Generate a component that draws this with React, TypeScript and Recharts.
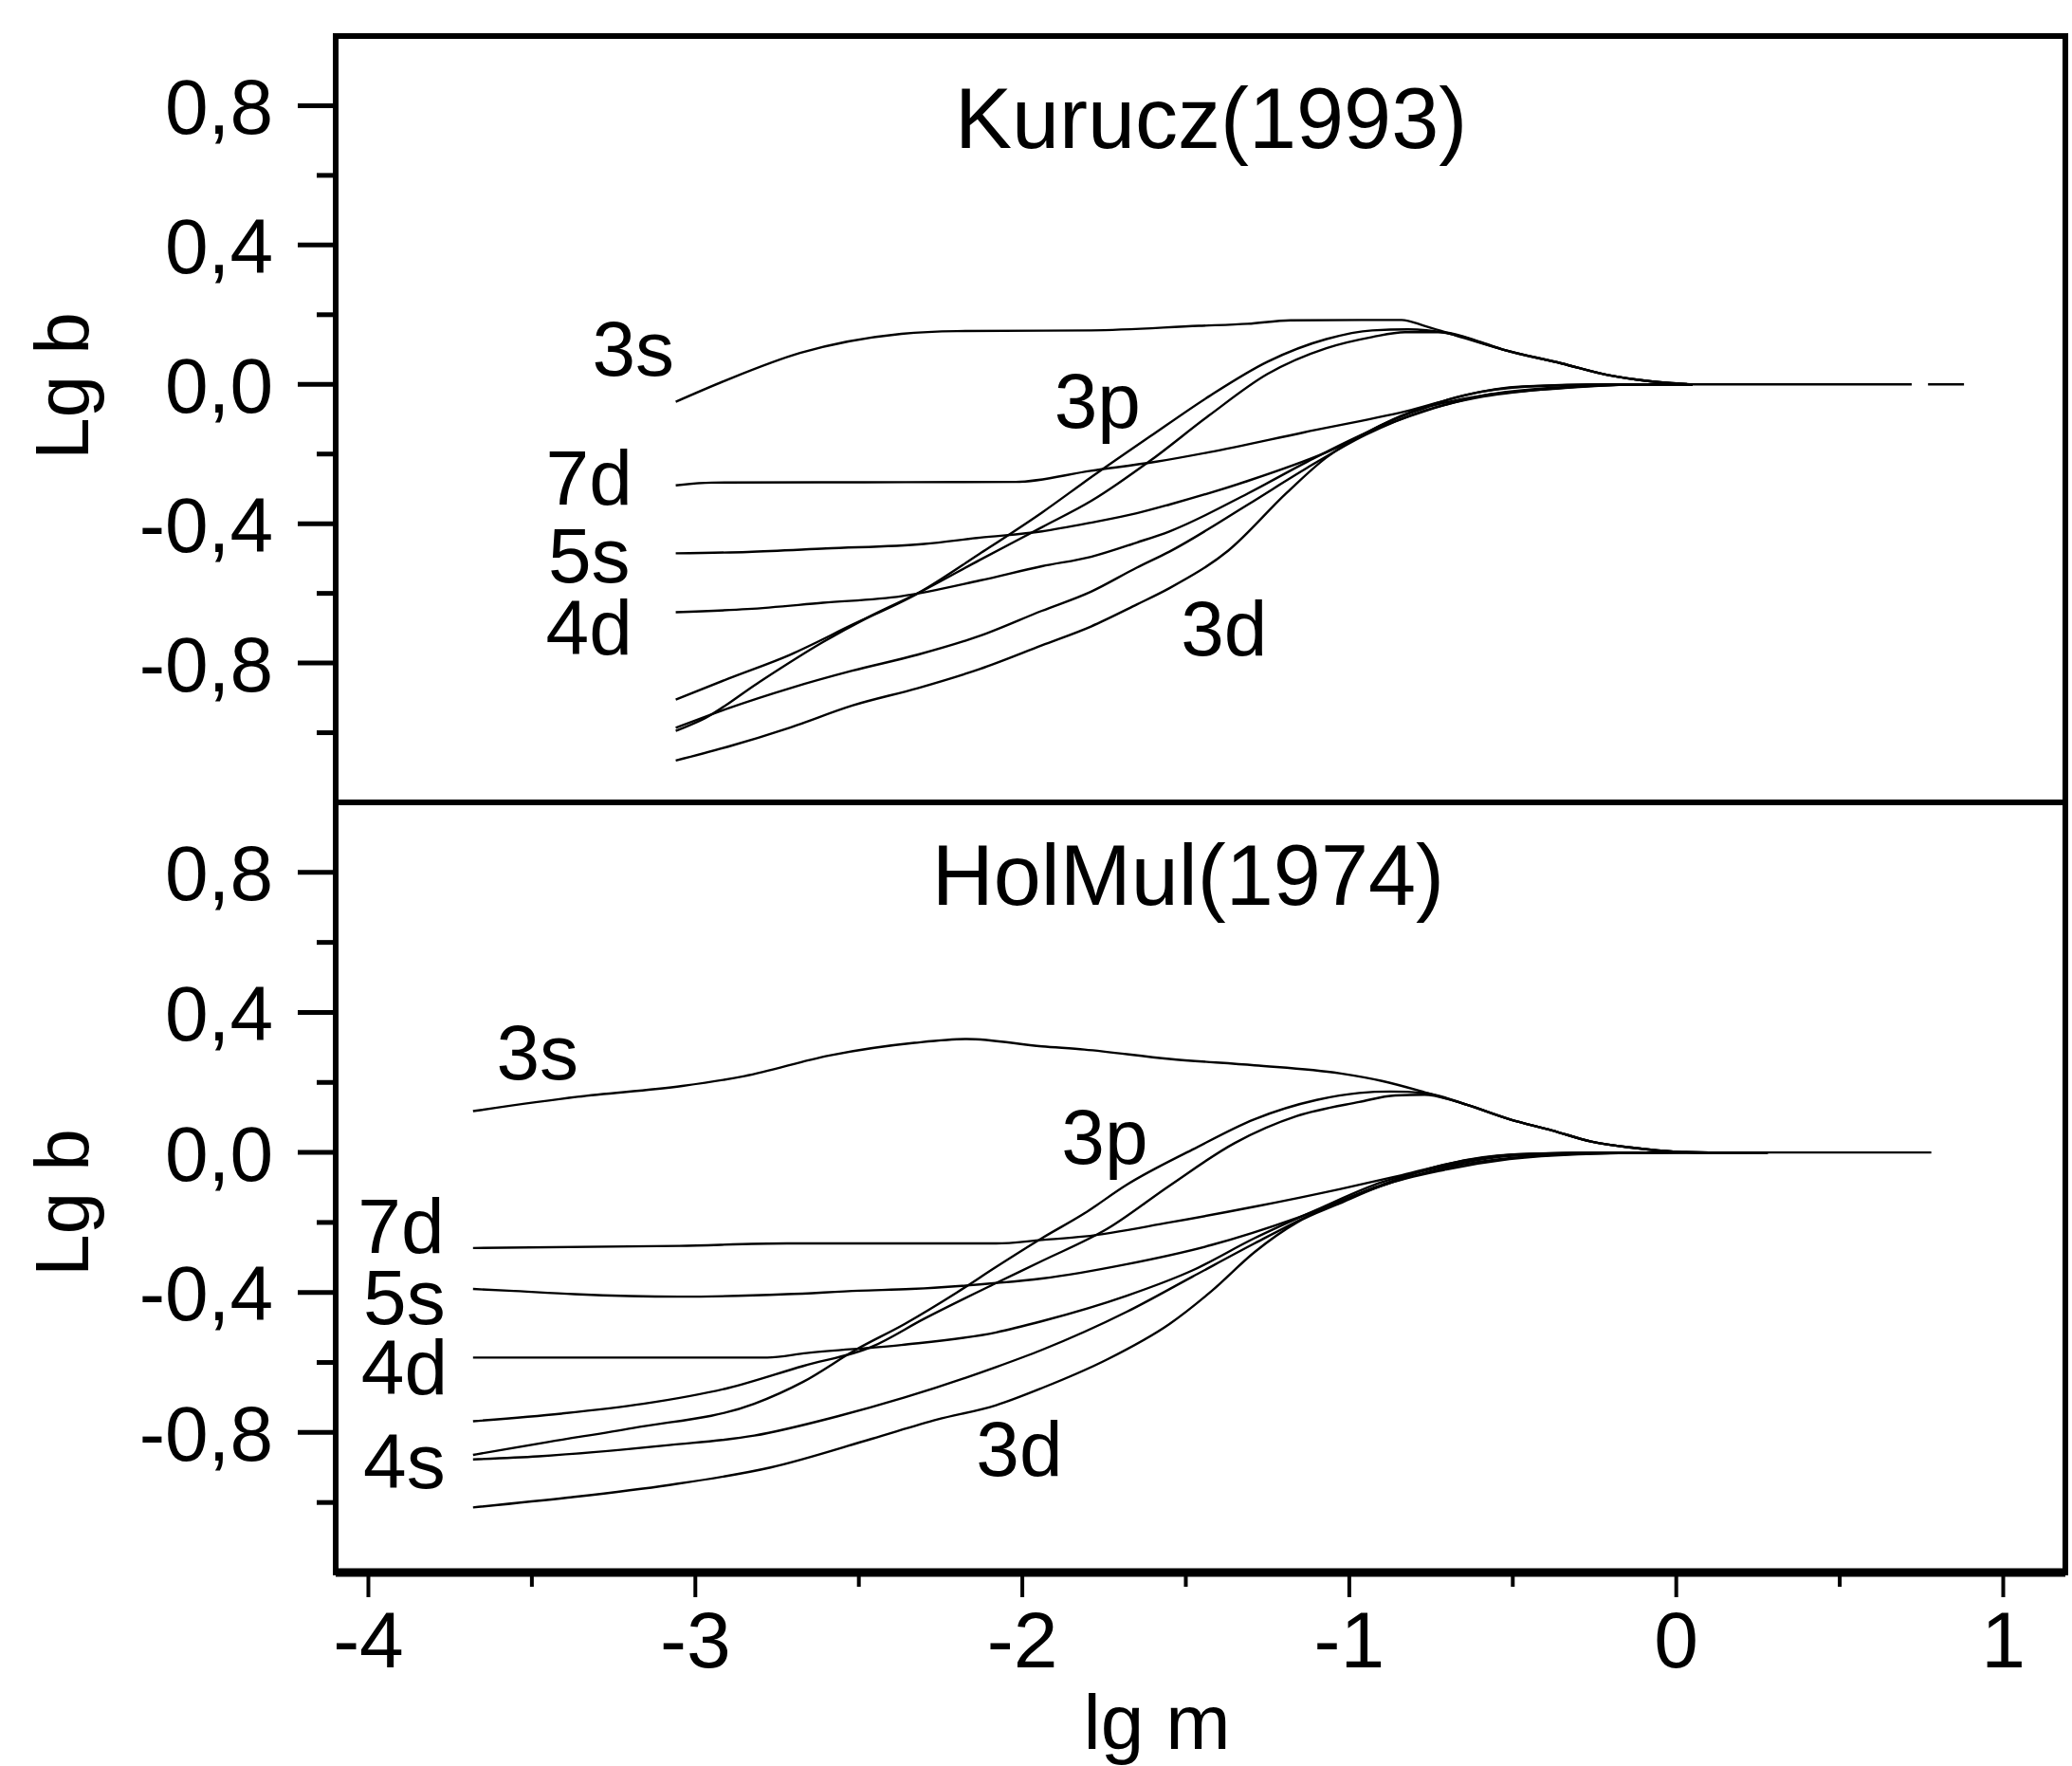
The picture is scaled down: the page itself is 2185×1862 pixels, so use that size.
import {
  LineChart,
  Line,
  XAxis,
  YAxis,
  ReferenceArea,
  ReferenceDot,
  Label,
} from 'recharts'

type Pt = [number, number | null]

// Kurucz (1993), [lg m, Lg b]
const kurucz3s: Pt[] = [[-3.06,-0.05],[-2.9,0.014],[-2.68,0.09],[-2.37,0.145],[-2.2,0.153],[-1.79,0.155],[-1.46,0.168],[-1.31,0.174],[-1.18,0.184],[-0.84,0.185],[-0.77,0.168],[-0.69,0.145],[-0.53,0.1],[-0.35,0.06],[-0.21,0.027],[-0.08,0.009],[0.05,0],[0.72,0],[0.745,null],[0.77,0],[0.88,0]]
const kurucz3p: Pt[] = [[-3.06,-0.905],[-2.9,-0.845],[-2.71,-0.776],[-2.52,-0.69],[-2.32,-0.6],[-2.13,-0.486],[-1.94,-0.368],[-1.79,-0.267],[-1.61,-0.15],[-1.43,-0.035],[-1.25,0.065],[-1.07,0.13],[-0.93,0.155],[-0.82,0.158],[-0.69,0.145],[-0.53,0.1],[-0.35,0.06],[-0.21,0.027],[-0.08,0.009],[0.05,0]]
const kurucz4p: Pt[] = [[-3.06,-0.995],[-2.97,-0.958],[-2.81,-0.858],[-2.61,-0.74],[-2.47,-0.668],[-2.32,-0.6],[-2.13,-0.504],[-1.94,-0.41],[-1.79,-0.335],[-1.61,-0.22],[-1.43,-0.09],[-1.25,0.03],[-1.07,0.104],[-0.93,0.136],[-0.83,0.15],[-0.72,0.15],[-0.6,0.122],[-0.53,0.1],[-0.35,0.06],[-0.21,0.027],[-0.08,0.009],[0.05,0]]
const kurucz7d: Pt[] = [[-3.06,-0.29],[-2.95,-0.282],[-2.02,-0.28],[-1.79,-0.248],[-1.59,-0.222],[-1.43,-0.195],[-1.14,-0.138],[-0.83,-0.078],[-0.59,-0.02],[-0.4,-0.004],[-0.15,0],[0.05,0]]
const kurucz5s: Pt[] = [[-3.06,-0.485],[-2.84,-0.481],[-2.6,-0.471],[-2.3,-0.458],[-2.13,-0.44],[-1.94,-0.422],[-1.79,-0.397],[-1.65,-0.37],[-1.55,-0.345],[-1.31,-0.277],[-1.07,-0.195],[-0.83,-0.086],[-0.65,-0.032],[-0.47,-0.006],[-0.2,0],[0.05,0]]
const kurucz4d: Pt[] = [[-3.06,-0.654],[-2.84,-0.645],[-2.61,-0.627],[-2.37,-0.608],[-2.13,-0.563],[-1.94,-0.522],[-1.79,-0.495],[-1.65,-0.454],[-1.55,-0.422],[-1.31,-0.313],[-1.13,-0.223],[-0.95,-0.14],[-0.77,-0.077],[-0.59,-0.032],[-0.35,-0.008],[-0.1,0],[0.05,0]]
const kurucz4s: Pt[] = [[-3.06,-0.986],[-2.9,-0.93],[-2.71,-0.872],[-2.52,-0.822],[-2.32,-0.776],[-2.13,-0.722],[-1.94,-0.65],[-1.79,-0.595],[-1.65,-0.526],[-1.55,-0.48],[-1.31,-0.345],[-1.13,-0.24],[-0.95,-0.145],[-0.77,-0.075],[-0.59,-0.035],[-0.35,-0.01],[-0.1,0],[0.05,0]]
const kurucz3d: Pt[] = [[-3.06,-1.08],[-2.9,-1.04],[-2.71,-0.985],[-2.52,-0.922],[-2.32,-0.872],[-2.13,-0.817],[-1.94,-0.749],[-1.79,-0.695],[-1.65,-0.632],[-1.55,-0.585],[-1.37,-0.477],[-1.19,-0.31],[-1.07,-0.21],[-0.95,-0.14],[-0.77,-0.068],[-0.59,-0.032],[-0.35,-0.011],[-0.1,0],[0.05,0]]

// HolMul (1974)
const holmul3s: Pt[] = [[-3.68,0.118],[-3.36,0.159],[-3.04,0.19],[-2.85,0.218],[-2.59,0.277],[-2.33,0.313],[-2.17,0.324],[-1.94,0.303],[-1.81,0.294],[-1.55,0.267],[-1.29,0.249],[-1.03,0.226],[-0.9,0.204],[-0.77,0.172],[-0.64,0.136],[-0.51,0.095],[-0.38,0.063],[-0.26,0.031],[-0.13,0.013],[0,0.002],[0.1,0],[0.78,0]]
const holmul3p: Pt[] = [[-3.68,-0.864],[-3.45,-0.827],[-3.19,-0.787],[-2.82,-0.718],[-2.67,-0.655],[-2.51,-0.564],[-2.36,-0.49],[-2.2,-0.4],[-2.08,-0.327],[-1.94,-0.245],[-1.81,-0.174],[-1.68,-0.092],[-1.48,0.008],[-1.29,0.095],[-1.1,0.15],[-0.97,0.17],[-0.875,0.174],[-0.77,0.17],[-0.64,0.136],[-0.51,0.095],[-0.38,0.063],[-0.26,0.031],[-0.13,0.013],[0,0.002],[0.1,0],[0.28,0]]
const holmul4p: Pt[] = [[-3.68,-0.768],[-3.41,-0.746],[-3.16,-0.718],[-2.9,-0.673],[-2.67,-0.61],[-2.46,-0.555],[-2.3,-0.475],[-2.08,-0.373],[-1.94,-0.31],[-1.74,-0.218],[-1.55,-0.095],[-1.35,0.027],[-1.16,0.104],[-0.97,0.144],[-0.86,0.163],[-0.77,0.165],[-0.64,0.136],[-0.51,0.095],[-0.38,0.063],[-0.26,0.031],[-0.13,0.013],[0,0.002],[0.1,0],[0.28,0]]
const holmul7d: Pt[] = [[-3.68,-0.273],[-3.05,-0.267],[-2.72,-0.26],[-2.08,-0.26],[-1.94,-0.25],[-1.81,-0.24],[-1.55,-0.2],[-1.29,-0.155],[-1.03,-0.105],[-0.84,-0.065],[-0.64,-0.022],[-0.45,-0.004],[-0.2,0],[0.28,0]]
const holmul5s: Pt[] = [[-3.68,-0.39],[-3.57,-0.395],[-3.37,-0.405],[-3.05,-0.412],[-2.72,-0.405],[-2.5,-0.395],[-2.34,-0.39],[-2.08,-0.373],[-1.94,-0.36],[-1.68,-0.319],[-1.42,-0.264],[-1.16,-0.187],[-0.9,-0.092],[-0.71,-0.035],[-0.5,-0.006],[-0.2,0],[0.28,0]]
const holmul4d: Pt[] = [[-3.68,-0.586],[-2.78,-0.586],[-2.66,-0.573],[-2.37,-0.55],[-2.08,-0.514],[-1.94,-0.482],[-1.68,-0.409],[-1.48,-0.337],[-1.29,-0.245],[-1.1,-0.164],[-0.9,-0.085],[-0.71,-0.04],[-0.51,-0.01],[-0.2,0],[0.28,0]]
const holmul4s: Pt[] = [[-3.68,-0.877],[-3.48,-0.868],[-3.08,-0.836],[-2.82,-0.809],[-2.57,-0.755],[-2.36,-0.7],[-2.08,-0.613],[-1.94,-0.564],[-1.68,-0.455],[-1.48,-0.355],[-1.29,-0.26],[-1.1,-0.17],[-0.9,-0.095],[-0.71,-0.045],[-0.5,-0.015],[-0.2,-0.002],[0.28,0]]
const holmul3d: Pt[] = [[-3.68,-1.014],[-3.39,-0.986],[-3.08,-0.95],[-2.77,-0.9],[-2.46,-0.818],[-2.26,-0.763],[-2.08,-0.722],[-1.94,-0.673],[-1.74,-0.591],[-1.55,-0.49],[-1.42,-0.395],[-1.29,-0.285],[-1.16,-0.2],[-1.03,-0.146],[-0.9,-0.095],[-0.71,-0.05],[-0.51,-0.019],[-0.3,-0.005],[0,0],[0.28,0]]

// curve labels (text centre, data coords)
const kuruczNotes = [
  { text: 'Kurucz(1993)', x: -1.423, y: 0.766, size: 90 },
  { text: '3s', x: -3.19, y: 0.105, size: 82 },
  { text: '3p', x: -1.77, y: -0.045, size: 82 },
  { text: '7d', x: -3.325, y: -0.265, size: 82 },
  { text: '5s', x: -3.325, y: -0.49, size: 82 },
  { text: '4d', x: -3.325, y: -0.697, size: 82 },
  { text: '3d', x: -1.383, y: -0.7, size: 82 },
]
const holmulNotes = [
  { text: 'HolMul(1974)', x: -1.493, y: 0.793, size: 90 },
  { text: '3s', x: -3.483, y: 0.289, size: 82 },
  { text: '3p', x: -1.748, y: 0.046, size: 82 },
  { text: '7d', x: -3.9, y: -0.207, size: 82 },
  { text: '5s', x: -3.89, y: -0.41, size: 82 },
  { text: '4d', x: -3.89, y: -0.613, size: 82 },
  { text: '4s', x: -3.89, y: -0.88, size: 82 },
  { text: '3d', x: -2.009, y: -0.845, size: 82 },
]

const xTicks = [-4, -3.5, -3, -2.5, -2, -1.5, -1, -0.5, 0, 0.5, 1]
const yTicks = [-1, -0.8, -0.6, -0.4, -0.2, 0, 0.2, 0.4, 0.6, 0.8]
const X_DOMAIN: [number, number] = [-4.1, 1.19]
const Y_DOMAIN: [number, number] = [-1.2, 1.0]

const FONT = '"Liberation Sans", Arial, Helvetica, sans-serif'

const toRows = (a: Pt[]) => a.map(([x, y]) => ({ x, y }))

const fmtY = (v: number) => v.toFixed(1).replace('.', ',')

const YTick = (props: any) => {
  const { x, y, payload } = props
  const v = payload.value as number
  const major = Math.round(v * 10) % 4 === 0
  return (
    <g>
      <line x1={x - (major ? 40 : 20)} x2={x} y1={y} y2={y} stroke="#000" strokeWidth={5} />
      {major && (
        <text x={x - 66} y={y} dy="0.36em" textAnchor="end" fontSize={82} fill="#000">
          {fmtY(v)}
        </text>
      )}
    </g>
  )
}

const XTick = (props: any) => {
  const { x, y, payload } = props
  const v = payload.value as number
  const major = Number.isInteger(v)
  return (
    <g>
      <line x1={x} x2={x} y1={y} y2={y + (major ? 26 : 15)} stroke="#000" strokeWidth={4} />
      {major && (
        <text x={x} y={y + 100} textAnchor="middle" fontSize={84} fill="#000">
          {String(v)}
        </text>
      )}
    </g>
  )
}

type PanelProps = {
  series: Pt[][]
  notes: { text: string; x: number; y: number; size: number }[]
  height: number
  top: number
  showX: boolean
  labelShift: number
}

function Panel({ series, notes, height, top, showX, labelShift }: PanelProps) {
  return (
    <div style={{ position: 'absolute', left: 0, top }}>
      <LineChart width={2185} height={height} margin={{ top: showX ? 0 : 38, right: 7, bottom: 0, left: 0 }}>
        <XAxis
          type="number"
          dataKey="x"
          domain={X_DOMAIN}
          allowDataOverflow
          ticks={xTicks}
          interval={0}
          hide={!showX}
          height={204}
          tick={XTick}
          tickLine={false}
          tickSize={0}
          tickMargin={0}
          axisLine={{ stroke: '#000', strokeWidth: 9 }}
        >
          {showX && (
            <Label
              content={(p: any) => {
                const vb = p.viewBox
                return (
                  <text x={vb.x + vb.width / 2 - 46} y={vb.y + 186} textAnchor="middle" fontSize={82} fill="#000">
                    lg m
                  </text>
                )
              }}
            />
          )}
        </XAxis>
        <YAxis
          type="number"
          domain={Y_DOMAIN}
          allowDataOverflow
          ticks={yTicks}
          interval={0}
          width={354}
          tick={YTick}
          tickLine={false}
          tickSize={0}
          tickMargin={0}
          axisLine={false}
        >
          <Label
            content={(p: any) => {
              const vb = p.viewBox
              const cx = vb.x + 64
              const cy = vb.y + vb.height / 2 + labelShift
              return (
                <text
                  transform={`translate(${cx}, ${cy}) rotate(-90)`}
                  dy="0.36em"
                  textAnchor="middle"
                  fontSize={80}
                  fill="#000"
                >
                  Lg b
                </text>
              )
            }}
          />
        </YAxis>

        <ReferenceArea
          x1={X_DOMAIN[0]}
          x2={X_DOMAIN[1]}
          y1={Y_DOMAIN[0]}
          y2={Y_DOMAIN[1]}
          fill="none"
          fillOpacity={0}
          stroke="#000"
          strokeWidth={6}
        />

        {series.map((s, i) => (
          <Line
            key={i}
            data={toRows(s)}
            dataKey="y"
            type="monotone"
            stroke="#000"
            strokeWidth={2.4}
            dot={false}
            activeDot={false}
            connectNulls={false}
            isAnimationActive={false}
          />
        ))}

        {notes.map((n) => (
          <ReferenceDot
            key={n.text + n.x}
            x={n.x}
            y={n.y}
            r={0}
            fill="none"
            stroke="none"
            label={{ value: n.text, position: 'center', fontSize: n.size, fill: '#000' }}
          />
        ))}
      </LineChart>
    </div>
  )
}

export default function App() {
  return (
    <div
      style={{
        position: 'absolute',
        left: 0,
        top: 0,
        width: 2185,
        height: 1862,
        background: '#fff',
        fontFamily: FONT,
      }}
    >
      <Panel
        series={[kurucz3s, kurucz3p, kurucz4p, kurucz7d, kurucz5s, kurucz4d, kurucz4s, kurucz3d]}
        notes={kuruczNotes}
        height={846}
        top={0}
        showX={false}
        labelShift={-35}
      />
      <Panel
        series={[holmul3s, holmul3p, holmul4p, holmul7d, holmul5s, holmul4d, holmul4s, holmul3d]}
        notes={holmulNotes}
        height={1016}
        top={846}
        showX
        labelShift={16}
      />
    </div>
  )
}
